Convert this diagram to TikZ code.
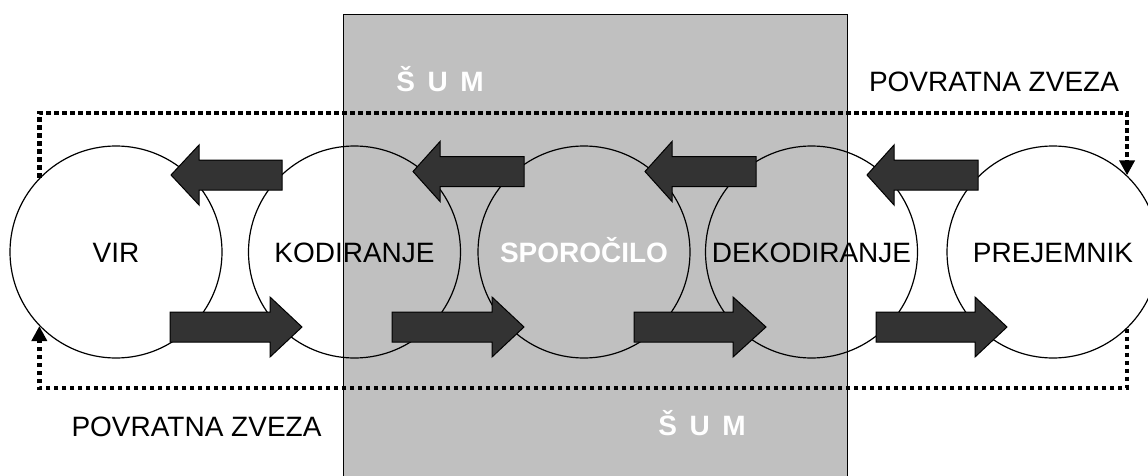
\documentclass[tikz,border=0pt]{standalone}
\usepackage{fontspec}
\setmainfont{Liberation Sans}
\usetikzlibrary{arrows.meta}
\definecolor{noisegray}{HTML}{C0C0C0}
\definecolor{blockfill}{HTML}{333333}
\tikzset{
  stage/.style={circle, draw=black, line width=1.2pt, minimum size=212pt,
    inner sep=0pt, text height=20pt, text depth=0pt,
    font=\fontsize{28}{30}\selectfont},
  blockarrow/.style={fill=blockfill, draw=black, line width=1pt, line join=miter},
  feedback/.style={line width=4.5pt, dash pattern=on 4.5pt off 3.5pt,
    -{Triangle[length=15pt,width=15pt]}},
  caption/.style={anchor=base, inner sep=0pt, font=\fontsize{28}{30}\selectfont},
  noiselabel/.style={anchor=base, inner sep=0pt, text=white,
    font=\fontsize{28}{30}\selectfont\bfseries},
}
\begin{document}
\begin{tikzpicture}[x=1pt, y=-1pt]
\useasboundingbox (0,0) rectangle (1148,476);
\fill[white] (0,0) rectangle (1148,476);

% noise band
\node[draw=black, fill=noisegray, line width=1.2pt, minimum width=504pt,
      minimum height=480pt, inner sep=0pt, anchor=north west] (noise) at (343,14) {};

% communication stages
\node[stage] (vir) at (116,252) {VIR};
\node[stage] (kod) at (354.5,252) {KODIRANJE};
\node[stage, text=white, font=\fontsize{28}{30}\selectfont\bfseries] (spo) at (584,252) {SPOROČILO};
\node[stage] (dek) at (811.5,252) {DEKODIRANJE};
\node[stage] (pre) at (1053,252) {PREJEMNIK};

% block arrows pointing back (upper row)
\foreach \tail/\tip/\y/\h in {282/171/175/28, 524/413/171.5/27, 756/645/171.5/27, 978/867/175/27}{
  \filldraw[blockarrow] (\tail,{\y-15}) -- ({\tip+\h},{\y-15}) -- ({\tip+\h},{\y-30})
    -- (\tip,\y) -- ({\tip+\h},{\y+30}) -- ({\tip+\h},{\y+15}) -- (\tail,{\y+15}) -- cycle;
}
% block arrows pointing forward (lower row)
\foreach \tail/\tip/\y/\h in {170/302/327/32, 392/524/327/32, 634/766/327/33, 876/1007/327/32}{
  \filldraw[blockarrow] (\tail,{\y-15}) -- ({\tip-\h},{\y-15}) -- ({\tip-\h},{\y-30})
    -- (\tip,\y) -- ({\tip-\h},{\y+30}) -- ({\tip-\h},{\y+15}) -- (\tail,{\y+15}) -- cycle;
}

% labels
\node[noiselabel] (noisetop) at (440,92) {Š\hspace{0.45em}U\hspace{0.45em}M};
\node[noiselabel] (noisebot) at (702,435) {Š\hspace{0.45em}U\hspace{0.45em}M};
\node[caption] (fbtoplabel) at (994,91.7) {POVRATNA ZVEZA};
\node[caption] (fbbotlabel) at (196.5,436.7) {POVRATNA ZVEZA};

% feedback loops
\coordinate (topline) at (0,113);
\coordinate (botline) at (0,388);
\draw[feedback] (vir.136) -- (vir.136 |- topline) -- (pre.46 |- topline) -- (pre.46);
\draw[feedback] (pre.-46) -- (pre.-46 |- botline) -- (vir.224 |- botline) -- (vir.224);
\end{tikzpicture}
\end{document}
